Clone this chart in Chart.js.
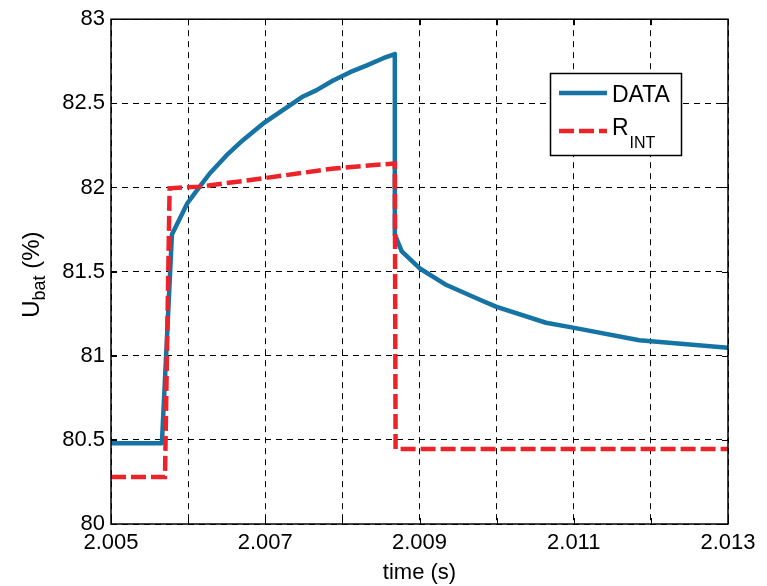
<!DOCTYPE html>
<html><head><meta charset="utf-8">
<script src="https://cdn.jsdelivr.net/npm/chart.js@4.4.0/dist/chart.umd.min.js"></script>
<style>html,body{margin:0;padding:0;background:#fff}#wrap{width:767px;height:586px;position:relative}canvas{display:block}</style>
</head><body><div id="wrap"><canvas id="c" width="767" height="586"></canvas></div>
<script>
// ---- data ----
const dataTime = [2.005, 2.00566, 2.00579, 2.00599, 2.00615, 2.00628, 2.00650, 2.00671, 2.00697, 2.00719, 2.00749, 2.00766, 2.00788, 2.00810, 2.00831, 2.00853, 2.00868, 2.00868, 2.00877, 2.00900, 2.00935, 2.00982, 2.01000, 2.01064, 2.01099, 2.01185, 2.01300];
const dataU    = [80.48, 80.48, 81.72, 81.906, 82.005, 82.083, 82.192, 82.281, 82.379, 82.448, 82.541, 82.577, 82.636, 82.685, 82.724, 82.768, 82.793, 81.72, 81.62, 81.52, 81.42, 81.325, 81.29, 81.196, 81.167, 81.092, 81.048];
const rintTime = [2.005, 2.00570, 2.00576, 2.00615, 2.00697, 2.00789, 2.00868, 2.00869, 2.01300];
const rintU    = [80.28, 80.28, 81.995, 82.005, 82.054, 82.113, 82.143, 80.445, 80.445];
const xTickValues = [2.005, 2.006, 2.007, 2.008, 2.009, 2.010, 2.011, 2.012, 2.013];
const xTickLabels = ['2.005', '', '2.007', '', '2.009', '', '2.011', '', '2.013'];
const yTickValues = [80, 80.5, 81, 81.5, 82, 82.5, 83];
const yTickLabels = ['80', '80.5', '81', '81.5', '82', '82.5', '83'];
const legendMain = ['DATA', 'R'];
const legendSub  = ['', 'INT'];
const xTitle = 'time (s)';
const yTitleMain = 'U';
const yTitleSub = 'bat';
const yTitleRest = ' (%)';

const FONT = '"Liberation Sans", Arial, Helvetica, sans-serif';
const BLUE = '#1573A5';
const RED = '#EE2229';

const decor = {
  id: 'decor',
  afterDraw(chart) {
    const ctx = chart.ctx, a = chart.chartArea;
    const xs = chart.scales.x, ys = chart.scales.y;
    ctx.save();
    // inner tick marks
    ctx.strokeStyle = '#000'; ctx.lineWidth = 1; ctx.setLineDash([]);
    ctx.beginPath();
    xTickValues.forEach(v => {
      const px = Math.round(xs.getPixelForValue(v)) + 0.5;
      ctx.moveTo(px, a.bottom); ctx.lineTo(px, a.bottom - 6);
      ctx.moveTo(px, a.top); ctx.lineTo(px, a.top + 6);
    });
    yTickValues.forEach(v => {
      const py = Math.round(ys.getPixelForValue(v)) + 0.5;
      ctx.moveTo(a.left, py); ctx.lineTo(a.left + 6, py);
      ctx.moveTo(a.right, py); ctx.lineTo(a.right - 6, py);
    });
    ctx.stroke();
    // box
    ctx.lineWidth = 1.5;
    ctx.strokeRect(a.left, a.top, a.right - a.left, a.bottom - a.top);

    // legend
    const lx = 550.5, ly = 73.5, lw = 131, lh = 82;
    ctx.fillStyle = '#fff';
    ctx.fillRect(lx, ly, lw, lh);
    ctx.lineWidth = 1.5; ctx.strokeStyle = '#000';
    ctx.strokeRect(lx, ly, lw, lh);
    const ds = chart.data.datasets;
    const rows = [93, 131];
    rows.forEach((ry, i) => {
      ctx.save();
      ctx.strokeStyle = ds[i].borderColor;
      ctx.lineWidth = ds[i].borderWidth;
      ctx.setLineDash(ds[i].borderDash || []);
      ctx.beginPath(); ctx.moveTo(559, ry); ctx.lineTo(607, ry); ctx.stroke();
      ctx.restore();
      ctx.fillStyle = '#000';
      ctx.textBaseline = 'alphabetic'; ctx.textAlign = 'left';
      ctx.font = '23px ' + FONT;
      const base = ry + 9;
      ctx.fillText(legendMain[i], 612, base + (i === 1 ? -5 : 0));
      if (legendSub[i]) {
        const w = ctx.measureText(legendMain[i]).width;
        ctx.font = '16px ' + FONT;
        ctx.fillText(legendSub[i], 612 + w + 1, base + 8);
      }
    });

    // y title with subscript
    ctx.save();
    ctx.translate(39, (a.top + a.bottom) / 2 + 3);
    ctx.rotate(-Math.PI / 2);
    ctx.fillStyle = '#000';
    ctx.textBaseline = 'alphabetic'; ctx.textAlign = 'left';
    ctx.font = '24px ' + FONT;
    const w1 = ctx.measureText(yTitleMain).width;
    const w3 = ctx.measureText(yTitleRest).width;
    ctx.font = '18px ' + FONT;
    const w2 = ctx.measureText(yTitleSub).width;
    let x0 = -(w1 + w2 + w3) / 2;
    ctx.font = '24px ' + FONT;
    ctx.fillText(yTitleMain, x0, 0);
    ctx.font = '18px ' + FONT;
    ctx.fillText(yTitleSub, x0 + w1, 6);
    ctx.font = '24px ' + FONT;
    ctx.fillText(yTitleRest, x0 + w1 + w2, 0);
    ctx.restore();
    ctx.restore();
  }
};

new Chart(document.getElementById('c'), {
  type: 'line',
  data: {
    datasets: [
      { label: 'DATA', data: dataTime.map((t, i) => ({x: t, y: dataU[i]})),
        borderColor: BLUE, borderWidth: 4.5, pointRadius: 0, tension: 0, fill: false, order: 2,
        borderJoinStyle: 'round' },
      { label: 'R_INT', data: rintTime.map((t, i) => ({x: t, y: rintU[i]})),
        borderColor: RED, borderWidth: 4.5, borderDash: [15, 5], pointRadius: 0, tension: 0, fill: false, order: 1 }
    ]
  },
  options: {
    responsive: false, animation: false, devicePixelRatio: 1,
    layout: { padding: { top: 17, right: 39, left: 0, bottom: 0 } },
    plugins: { legend: { display: false }, tooltip: { enabled: false } },
    scales: {
      x: {
        type: 'linear', min: 2.005, max: 2.013,
        afterBuildTicks: s => { s.ticks = xTickValues.map(v => ({ value: v })); },
        afterFit: s => { s.height = 62; },
        ticks: { callback: (v, i) => xTickLabels[i], color: '#000', font: { family: FONT, size: 22 }, padding: 6, maxRotation: 0, autoSkip: false },
        grid: { color: '#000', lineWidth: 1, drawTicks: false },
        border: { display: false, dash: [6, 5] },
        title: { display: true, text: xTitle, color: '#000', font: { family: FONT, size: 22 }, padding: { top: 2, bottom: 0 } }
      },
      y: {
        type: 'linear', min: 80, max: 83,
        afterBuildTicks: s => { s.ticks = yTickValues.map(v => ({ value: v })); },
        afterFit: s => { s.width = 111; },
        ticks: { callback: (v, i) => yTickLabels[i], color: '#000', font: { family: FONT, size: 22 }, padding: 6, autoSkip: false },
        grid: { color: '#000', lineWidth: 1, drawTicks: false },
        border: { display: false, dash: [6, 5] }
      }
    }
  },
  plugins: [decor]
});
</script>
</body></html>
